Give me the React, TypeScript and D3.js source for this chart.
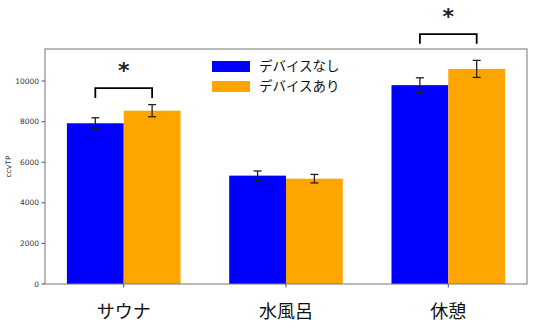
import React from "react";
import * as d3 from "d3";

const categories = ["サウナ", "水風呂", "休憩"];
const seriesNames = ["デバイスなし", "デバイスあり"];
const colors = ["#0000ff", "#ffa500"];
const withoutDevice = [7920, 5340, 9800];
const withoutErr = [270, 230, 360];
const withDevice = [8540, 5190, 10600];
const withErr = [300, 210, 420];
const yTicks = [0, 2000, 4000, 6000, 8000, 10000];
const yLabel = "ccvTP";
// significance brackets: category index, bracket top value, leg bottom value
const sigIndex = [0, 2];
const sigTop = [9655, 12315];
const sigBottom = [9160, 11840];

const W = 536, H = 335;
const left = 45, right = 527, top = 49, bottom = 284;
const barW = 0.35;

export default function App() {
  const x = d3.scaleLinear().domain([-0.485, 2.485]).range([left, right]);
  const y = d3.scaleLinear().domain([0, 11580]).range([bottom, top]);
  const series = [
    { vals: withoutDevice, errs: withoutErr, off: -barW / 2 },
    { vals: withDevice, errs: withErr, off: barW / 2 },
  ];
  const cap = 4;
  return (
    <svg width={W} height={H} style={{ position: "absolute", left: 0, top: 0 }}>
      <rect width={W} height={H} fill="#fff" />
      {series.map((s, si) =>
        s.vals.map((v, i) => {
          const x0 = x(i + s.off - barW / 2);
          const x1 = x(i + s.off + barW / 2);
          return (
            <rect key={`b${si}-${i}`} x={x0} y={y(v)} width={x1 - x0} height={y(0) - y(v)} fill={colors[si]} />
          );
        })
      )}
      {series.map((s, si) =>
        s.vals.map((v, i) => {
          const cx = x(i + s.off);
          const lo = y(v - s.errs[i]);
          const hi = y(v + s.errs[i]);
          return (
            <g key={`e${si}-${i}`} stroke="#222" strokeWidth={1.3}>
              <line x1={cx} x2={cx} y1={lo} y2={hi} />
              <line x1={cx - cap} x2={cx + cap} y1={lo} y2={lo} />
              <line x1={cx - cap} x2={cx + cap} y1={hi} y2={hi} />
            </g>
          );
        })
      )}
      {/* axes frame */}
      <rect x={left} y={top} width={right - left} height={bottom - top} fill="none" stroke="#777" strokeWidth={1} />
      {/* y ticks */}
      {yTicks.map((t) => (
        <g key={`yt${t}`}>
          <line x1={left - 3.5} x2={left} y1={y(t)} y2={y(t)} stroke="#555" />
          <text x={left - 6} y={y(t)} dy="0.35em" textAnchor="end" fontSize={7.5} fontFamily="DejaVu Sans" fill="#333">
            {t}
          </text>
        </g>
      ))}
      <text transform={`translate(11,${(top + bottom) / 2}) rotate(-90)`} textAnchor="middle" fontSize={7.5} fontFamily="DejaVu Sans" fill="#333">
        {yLabel}
      </text>
      {/* x ticks */}
      {categories.map((c, i) => (
        <g key={`xt${i}`}>
          <line x1={x(i)} x2={x(i)} y1={bottom} y2={bottom + 3.5} stroke="#555" />
          <text x={x(i)} y={312} dy="0.35em" textAnchor="middle" fontSize={18} fontFamily="Noto Sans CJK JP" fill="#111">
            {c}
          </text>
        </g>
      ))}
      {/* significance */}
      {sigIndex.map((ci, k) => {
        const xl = x(ci - barW / 2);
        const xr = x(ci + barW / 2);
        const yt = y(sigTop[k]);
        const yb = y(sigBottom[k]);
        return (
          <g key={`sig${k}`}>
            <path d={`M${xl},${yb}V${yt}H${xr}V${yb}`} fill="none" stroke="#000" strokeWidth={1.8} />
            <text x={x(ci)} y={yt - 10} textAnchor="middle" fontSize={22} fontWeight="bold" fontFamily="DejaVu Sans" fill="#222">
              *
            </text>
          </g>
        );
      })}
      {/* legend */}
      {seriesNames.map((n, i) => (
        <g key={`lg${i}`}>
          <rect x={212} y={61 + i * 20} width={38} height={11} fill={colors[i]} />
          <text x={259} y={66.5 + i * 20} dy="0.35em" fontSize={13.5} fontFamily="Noto Sans CJK JP" fill="#111">
            {n}
          </text>
        </g>
      ))}
    </svg>
  );
}
